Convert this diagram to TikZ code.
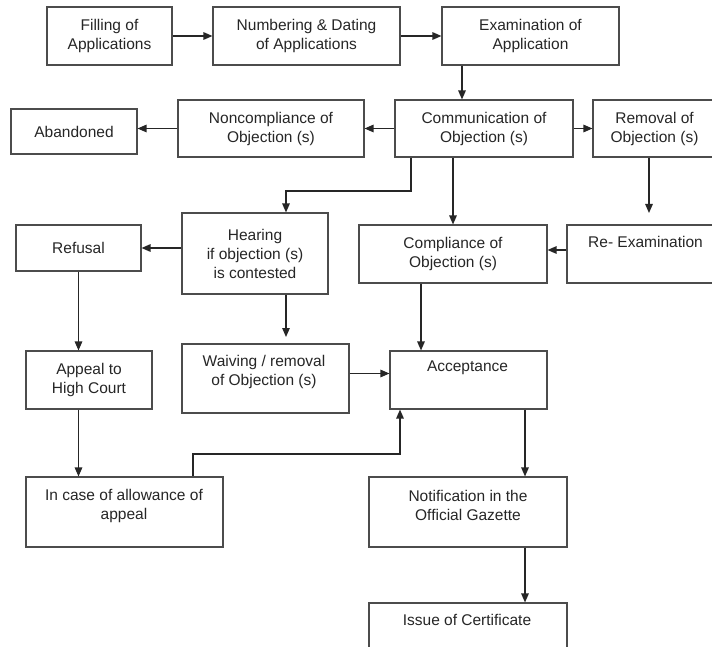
\documentclass[tikz,border=0pt]{standalone}
\usepackage{fontspec}
\setmainfont{Liberation Sans}
\usetikzlibrary{arrows.meta}
\begin{document}
\begin{tikzpicture}[x=1pt,y=-1pt,
  box/.style={draw=black!70,line width=1.1pt,rectangle,inner sep=0pt,align=center,
    font=\fontsize{15.5}{19}\selectfont,text=black!85},
  lbl/.style={inner sep=0pt,align=center,font=\fontsize{15.5}{19}\selectfont,text=black!85},
  arr/.style={draw=black!85,line width=1.3pt,-{Triangle[length=9pt,width=7.5pt]}}]
\useasboundingbox (0,0) rectangle (712,647);
\fill[white] (0,0) rectangle (712,647);
\clip (0,0) rectangle (712,647);

% boxes
\node[box,minimum width=125pt,minimum height=58pt] (fill) at (109.5,36) {Filling of\\Applications};
\node[box,minimum width=187pt,minimum height=58pt] (numb) at (306.5,36) {Numbering \& Dating\\of Applications};
\node[box,minimum width=177pt,minimum height=58pt] (exam) at (530.5,36) {Examination of\\Application};
\node[box,minimum width=126pt,minimum height=45pt] (aband) at (74,131.5) {Abandoned};
\node[box,minimum width=186pt,minimum height=57pt] (nonc) at (271,128.5) {Noncompliance of\\Objection (s)};
\node[box,minimum width=178pt,minimum height=57pt] (comm) at (484,128.5) {Communication of\\Objection (s)};
\node[box,minimum width=123pt,minimum height=57pt] (remov) at (654.5,128.5) {Removal of\\Objection (s)};
\node[box,minimum width=146pt,minimum height=81pt] (hear) at (255,253.5) {Hearing\\if objection (s)\\is contested};
\node[box,minimum width=125pt,minimum height=46pt] (refus) at (78.5,248) {Refusal};
\node[box,minimum width=188pt,minimum height=58pt] (compl) at (453,254) {Compliance of\\Objection (s)};
\node[box,minimum width=149pt,minimum height=58pt] (reex) at (641.5,254) {};
\node[lbl] (reexT) at (645.5,242) {Re- Examination};
\node[box,minimum width=126pt,minimum height=58pt] (appeal) at (89,380) {Appeal to\\High Court};
\node[box,minimum width=167pt,minimum height=69pt] (waiv) at (265.5,378.5) {};
\node[lbl] (waivT) at (264,371.5) {Waiving / removal\\of Objection (s)};
\node[box,minimum width=157pt,minimum height=58pt] (acc) at (468.5,380) {};
\node[lbl] (accT) at (467.5,368) {Acceptance};
\node[box,minimum width=197pt,minimum height=70pt] (incase) at (124.5,512) {};
\node[lbl] (incaseT) at (124,505.5) {In case of allowance of\\appeal};
\node[box,minimum width=198pt,minimum height=70pt] (notif) at (468,512) {};
\node[lbl] (notifT) at (468,505) {Notification in the\\Official Gazette};
\node[box,minimum width=198pt,minimum height=57pt] (issue) at (468,631.5) {};
\node[lbl] (issueT) at (467,620) {Issue of Certificate};

% helper coordinates
\coordinate (ec) at (462,0);
\coordinate (j0) at (411,191);
\coordinate (j1) at (286,191);
\coordinate (rr) at (649,213);
\coordinate (hw) at (286,337);
\coordinate (ca) at (421,0);
\coordinate (an) at (525,0);
\coordinate (k1) at (193,454);
\coordinate (k2) at (400,454);
\coordinate (rx) at ([yshift=4pt]reex.west);
\coordinate (wv) at ([yshift=5pt]waiv.east);

% connectors
\draw[arr] (fill.east) -- (numb.west);
\draw[arr] (numb.east) -- (exam.west);
\draw[arr] (exam.south -| ec) -- (comm.north -| ec);
\draw[arr] (comm.west) -- (nonc.east);
\draw[arr] (nonc.west) -- (nonc.west -| aband.east);
\draw[arr] (comm.east) -- (remov.west);
\draw[arr] (comm.south -| j0) -- (j0) -- (j1) -- (hear.north -| j1);
\draw[arr] (comm.south -| compl.north) -- (compl.north);
\draw[arr] (remov.south -| rr) -- (rr);
\draw[arr] (rx) -- (rx -| compl.east);
\draw[arr] (hear.west |- refus.east) -- (refus.east);
\draw[arr] (refus.south) -- (refus.south |- appeal.north);
\draw[arr] (hear.south -| hw) -- (hw);
\draw[arr] (wv) -- (wv -| acc.west);
\draw[arr] (compl.south -| ca) -- (acc.north -| ca);
\draw[arr] (refus.south |- appeal.south) -- (refus.south |- incase.north);
\draw[arr] (incase.north -| k1) -- (k1) -- (k2) -- (acc.south -| k2);
\draw[arr] (acc.south -| an) -- (notif.north -| an);
\draw[arr] (notif.south -| an) -- (issue.north -| an);
\end{tikzpicture}
\end{document}
